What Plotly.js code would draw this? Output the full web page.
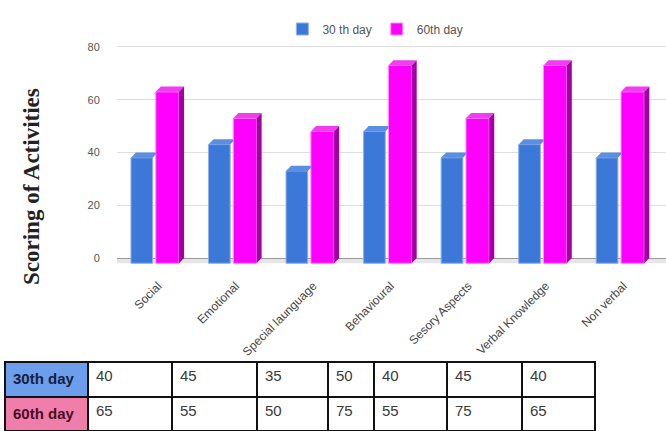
<!DOCTYPE html>
<html>
<head>
<meta charset="utf-8">
<script src="https://cdn.plot.ly/plotly-3.0.1.min.js"></script>
<style>
  html, body { margin: 0; padding: 0; background: #ffffff; }
  #chart { width: 666px; height: 431px; }
</style>
</head>
<body>
<div id="chart"></div>
<script>
// Scores per activity area
const categories = ['Social', 'Emotional', 'Special launguage', 'Behavioural',
                    'Sesory Aspects', 'Verbal Knowledge', 'Non verbal'];
const day30 = [40, 45, 35, 50, 40, 45, 40];
const day60 = [65, 55, 50, 75, 55, 75, 65];
const seriesNames = ['30 th day', '60th day'];
const rowLabels = ['30th day', '60th day'];
const yTicks = [0, 20, 40, 60, 80];
const yTitle = 'Scoring of Activities';

// 3D bar look: depth of the top/side faces (x in category units, y in score units)
const DX = 0.065, DY = 2;
const OFF30 = -0.35, W30 = 0.28;
const OFF60 = -0.03, W60 = 0.30;

const idx = categories.map((_, i) => i);

function facePolys(values, off, w, clipAt, withSide) {
  const top = { x: [], y: [] }, side = { x: [], y: [] };
  values.forEach((v, i) => {
    const x0 = i + off, x1 = i + off + w, t = v - DY;
    if (clipAt !== null) {
      const xm = i + clipAt;
      top.x.push(x0, x1, xm, xm, x0 + DX, x0, null);
      top.y.push(t, t, t + DY * (xm - x1) / DX, v, v, t, null);
    } else {
      top.x.push(x0, x1, x1 + DX, x0 + DX, x0, null);
      top.y.push(t, t, v, v, t, null);
    }
    if (withSide) {
      side.x.push(x1, x1 + DX, x1 + DX, x1, x1, null);
      side.y.push(-DY, 0, v, t, -DY, null);
    }
  });
  return { top, side };
}

const f30 = facePolys(day30, OFF30, W30, OFF60, false);
const f60 = facePolys(day60, OFF60, W60, null, true);

function face(poly, color) {
  return {
    type: 'scatter', mode: 'lines', x: poly.x, y: poly.y,
    fill: 'toself', fillcolor: color, line: { width: 0, color: color },
    hoverinfo: 'skip', showlegend: false, connectgaps: false
  };
}

const traces = [
  {
    type: 'bar', name: seriesNames[0], x: idx, y: day30, base: -DY,
    offset: OFF30, width: W30,
    marker: { color: '#3c78d8', line: { color: '#8db1ec', width: 1 } }
  },
  {
    type: 'bar', name: seriesNames[1], x: idx, y: day60, base: -DY,
    offset: OFF60, width: W60,
    marker: { color: '#ff00ff', line: { color: '#ff8cff', width: 1 } }
  },
  face(f30.top, '#5a8fe2'),
  face(f60.top, '#f23cf2'),
  face(f60.side, '#a300a3'),
  // table of the same scores
  {
    type: 'table',
    domain: { x: [5 / 666, 595 / 666], y: [0, 1 - 362 / 431] },
    columnwidth: [83, 84, 85, 71, 46, 73, 75, 73],
    header: {
      values: [['<b>' + rowLabels[0] + '</b>']].concat(day30.map(v => [String(v)])),
      height: 35,
      align: 'left',
      fill: { color: ['#6d9eeb'].concat(day30.map(() => '#ffffff')) },
      line: { color: '#111111', width: 2 },
      font: { family: 'Liberation Sans, Arial, sans-serif', size: 15,
              color: ['#14203d'].concat(day30.map(() => '#3a3a3a')) }
    },
    cells: {
      values: [['<b>' + rowLabels[1] + '</b>']].concat(day60.map(v => [String(v)])),
      height: 34,
      align: 'left',
      fill: { color: [['#ef7eab']].concat(day60.map(() => ['#ffffff'])) },
      line: { color: '#111111', width: 2 },
      font: { family: 'Liberation Sans, Arial, sans-serif', size: 15,
              color: ['#4a0c26'].concat(day60.map(() => '#3a3a3a')) }
    }
  }
];

const layout = {
  width: 666, height: 431,
  margin: { l: 0, r: 0, t: 0, b: 0 },
  paper_bgcolor: '#ffffff', plot_bgcolor: '#ffffff',
  font: { family: 'Liberation Sans, Arial, sans-serif', color: '#555555' },
  barmode: 'overlay',
  showlegend: true,
  legend: {
    orientation: 'h', x: 0.424, xanchor: 'left', y: 1 - 29 / 431, yanchor: 'middle',
    font: { size: 12, color: '#555555' }, bgcolor: 'rgba(0,0,0,0)',
    traceorder: 'normal'
  },
  xaxis: {
    domain: [117 / 666, 1], range: [-0.53, 6.55],
    tickvals: idx, ticktext: categories, tickangle: -45,
    tickfont: { size: 12, color: '#444444' },
    showgrid: false, zeroline: false, showline: false, ticks: 'outside',
    ticklen: 2, tickcolor: 'rgba(0,0,0,0)',
    fixedrange: true
  },
  yaxis: {
    domain: [1 - 271.2 / 431, 1 - 41.7 / 431], range: [-5, 82],
    tickvals: yTicks, ticks: 'outside', ticklen: 14, tickcolor: 'rgba(0,0,0,0)',
    tickfont: { size: 11, color: '#555555' },
    showgrid: true, gridcolor: '#dedede', gridwidth: 1,
    zeroline: true, zerolinecolor: '#9a9a9a', zerolinewidth: 1,
    showline: false,
    fixedrange: true
  },
  // vertical axis caption, set lower than the plot middle so it runs past the floor
  annotations: [{
    text: '<b>' + yTitle + '</b>', textangle: -90,
    xref: 'paper', yref: 'paper', x: 31 / 666, y: 1 - 187 / 431,
    xanchor: 'center', yanchor: 'middle', showarrow: false,
    font: { family: 'Liberation Serif, Times New Roman, serif', size: 23, color: '#222222' }
  }],
  shapes: [{
    type: 'rect', xref: 'x', yref: 'y', x0: -0.53, x1: 6.55, y0: -DY, y1: 0,
    fillcolor: '#e6e6e6', line: { width: 0 }, layer: 'below'
  }]
};

Plotly.newPlot('chart', traces, layout, { displayModeBar: false, staticPlot: true });
</script>
</body>
</html>
